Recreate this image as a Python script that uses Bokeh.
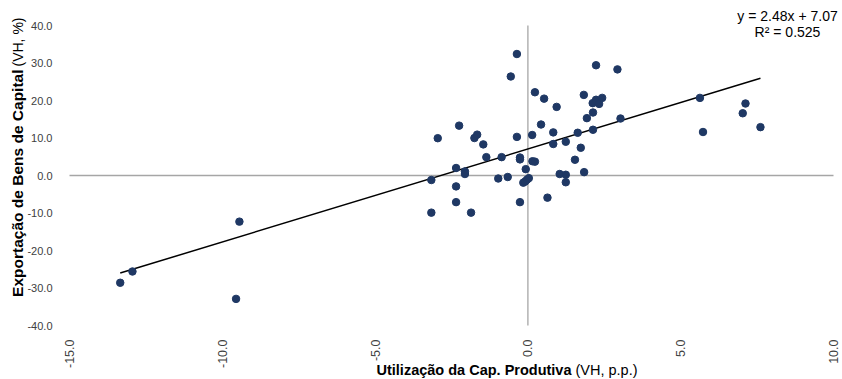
import math
from bokeh.plotting import figure
from bokeh.models import Label, FixedTicker, PrintfTickFormatter, Range1d
from bokeh.embed import file_html
from bokeh.resources import INLINE

# ---- data ----
util_cap = [-0.36, -0.56, 2.23, 2.93, 0.23, 0.53, 0.94, 1.83, 2.12, 2.23, 2.33, 2.43,
            2.13, 1.93, 3.03, -2.25, 0.43, -2.95, -1.75, -1.66, -1.46, -1.36, -0.86,
            -0.36, 0.14, -0.26, -0.26, 0.83, 0.83, 1.24, 1.63, 2.13, 1.73, 1.54, 0.15,
            0.23, -0.07, 1.04, 1.24, 1.84, 1.24, -2.35, -2.06, -2.06, -3.16, -0.97,
            -0.66, -0.15, -0.09, -0.03, 0.03, -2.35, -2.35, -0.26, 0.64, -3.16, -1.86,
            -13.34, -12.94, -9.44, -9.55, 5.63, 7.12, 7.03, 5.73, 7.61]
export_bk = [32.4, 26.4, 29.4, 28.3, 22.2, 20.5, 18.3, 21.5, 19.3, 20.2, 19.1, 20.7,
             16.8, 15.3, 15.2, 13.3, 13.6, 9.95, 10.0, 10.9, 8.3, 4.9, 4.9,
             10.3, 10.8, 4.8, 4.3, 11.5, 8.4, 9.0, 11.4, 12.2, 7.4, 4.2, 3.8,
             3.7, 1.7, 0.4, 0.2, 0.9, -1.8, 2.0, 1.1, 0.4, -1.2, -0.8,
             -0.4, -1.9, -1.6, -1.1, -0.7, -2.9, -7.1, -7.1, -5.9, -9.9, -9.9,
             -28.6, -25.6, -12.3, -32.9, 20.7, 19.2, 16.6, 11.6, 12.9]
trend_slope = 2.48
trend_intercept = 7.07
r_squared = 0.525
x_ticks = [-15, -10, -5, 0, 5, 10]
y_ticks = [-40, -30, -20, -10, 0, 10, 20, 30, 40]
x_title_bold = "Utilização da Cap. Produtiva"
x_title_norm = "(VH, p.p.)"
y_title_bold = "Exportação de Bens de Capital"
y_title_norm = "(VH, %)"

FONT = "Liberation Sans"
W, H = 842, 379
# plot-area pixel box (inside the canvas)
PX_L, PX_R, PX_T, PX_B = 69, 833, 25, 325
xs = (PX_R - PX_L) / (x_ticks[-1] - x_ticks[0])
ys = (PX_B - PX_T) / (y_ticks[-1] - y_ticks[0])
x_rng = Range1d(x_ticks[0] - PX_L / xs, x_ticks[-1] + (W - PX_R) / xs)
y_rng = Range1d(y_ticks[0] - (H - PX_B) / ys, y_ticks[-1] + PX_T / ys)


def px2x(px):
    return x_ticks[0] + (px - PX_L) / xs


def px2y(py):
    return y_ticks[-1] - (py - PX_T) / ys


p = figure(width=W, height=H, output_backend="svg", toolbar_location=None,
           x_range=x_rng, y_range=y_rng, min_border=0)
p.outline_line_color = None
p.xgrid.visible = False
p.ygrid.visible = False

for ax in (p.xaxis[0], p.yaxis[0]):
    ax.axis_line_color = None
    ax.major_tick_line_color = None
    ax.minor_tick_line_color = None
    ax.formatter = PrintfTickFormatter(format="%.1f")
    ax.major_label_text_font = FONT
    ax.major_label_text_color = "#404040"
p.xaxis[0].ticker = FixedTicker(ticks=x_ticks)
p.yaxis[0].ticker = FixedTicker(ticks=y_ticks)
p.xaxis[0].fixed_location = y_ticks[0]
p.yaxis[0].fixed_location = x_ticks[0]
p.xaxis[0].major_label_orientation = math.pi / 2
p.xaxis[0].major_label_standoff = 8
p.xaxis[0].major_label_text_font_size = "12.5px"
p.yaxis[0].major_label_standoff = 11
p.yaxis[0].major_label_text_font_size = "11px"

# zero lines across the plot area
p.line([x_ticks[0], x_ticks[-1]], [0, 0], line_color="#a6a6a6", line_width=1.3)
p.line([0, 0], [y_ticks[0], y_ticks[-1]], line_color="#a6a6a6", line_width=1.3)

# trend line
x0, x1 = min(util_cap), max(util_cap)
p.line([x0, x1], [trend_slope * x0 + trend_intercept, trend_slope * x1 + trend_intercept],
       line_color="black", line_width=1.5)

# points
p.scatter(util_cap, export_bk, size=7.5, fill_color="#1f3864", line_color="#1f3864")


def lab(px, py, text, **kw):
    p.add_layout(Label(x=px2x(px), y=px2y(py), text=text, text_font=FONT,
                       text_color="black", text_baseline="middle", **kw))


# axis titles (bold + normal parts)
lab(571, 369, x_title_bold, text_align="right", text_font_style="bold", text_font_size="14.5px")
lab(575, 369, x_title_norm, text_align="left", text_font_size="14.5px")
lab(17, 69, y_title_bold, angle=math.pi / 2, text_align="right", text_font_style="bold",
    text_font_size="15.5px")
lab(17, 66, y_title_norm, angle=math.pi / 2, text_align="left", text_font_size="14px")

# equation
lab(787, 15, f"y = {trend_slope:.2f}x + {trend_intercept:.2f}", text_align="center",
    text_font_size="14px")
lab(787, 31, f"R² = {r_squared:.3f}", text_align="center", text_font_size="14px")

open("out.html", "w").write(file_html(p, INLINE))
